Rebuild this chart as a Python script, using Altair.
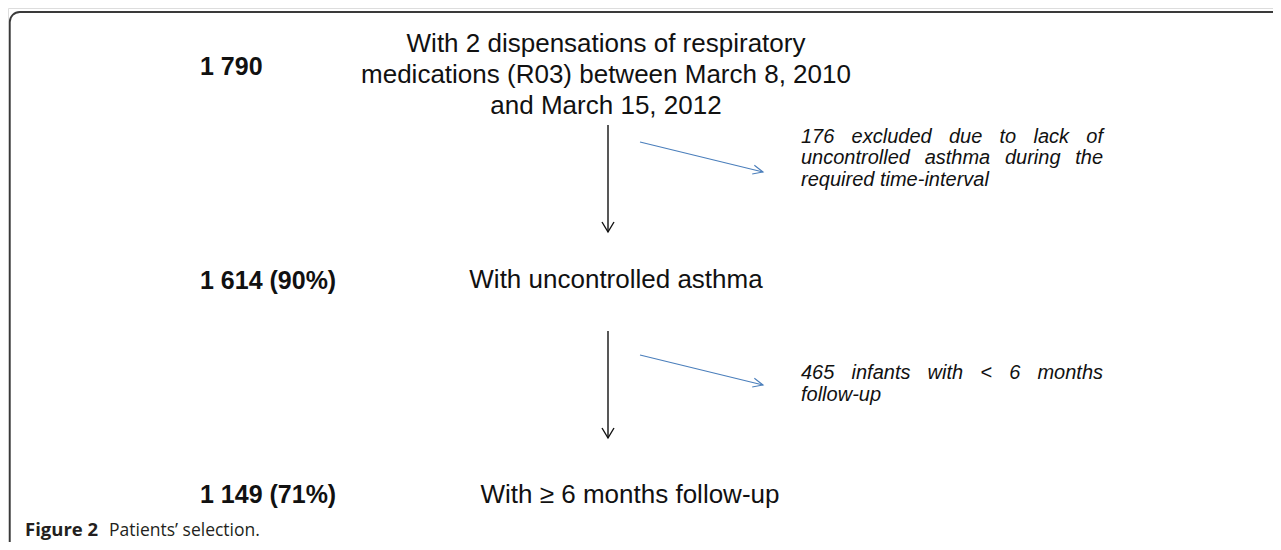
import math
import altair as alt
import pandas as pd

# ---------------- content ----------------
counts = ["1 790", "1 614 (90%)", "1 149 (71%)"]
descriptions = [
    ["With 2 dispensations of respiratory",
     "medications (R03) between March 8, 2010",
     "and March 15, 2012"],
    ["With uncontrolled asthma"],
    ["With \u2265 6 months follow-up"],
]
exclusions = [
    ["176 excluded due to lack of", "uncontrolled asthma during the", "required time-interval"],
    ["465 infants with < 6 months", "follow-up"],
]
caption_bold = "Figure 2"
caption_text = "Patients\u2019 selection."

# ---------------- layout (page pixels) ----------------
X0, X1, Y0, Y1 = 8, 1273, 8, 542
FONT = "Liberation Sans"
count_x = 200
count_base = [75, 289, 503]
desc_cx = [606, 616, 630]
desc_base = [[52, 83, 114], [288], [503]]
excl_left, excl_right = 801, 1103
excl_base = [142.5, 379]
excl_lh = 21.8
excl_size = 20
down_x = 608
down_from = [125, 331]
down_to = [232, 438]
side_from = [(640, 142), (640, 355)]
side_to = [(763, 172), (763, 385)]

# Arial/Liberation Sans advance widths (per 1000 em)
W = {' ': 278, '-': 333, '<': 584}
for ch in "0123456789abdeghnopqu":
    W[ch] = 556
for ch in "cksvxyz":
    W[ch] = 500
W.update({'f': 278, 'i': 222, 'j': 222, 'l': 222, 'm': 833, 'r': 333, 't': 278, 'w': 722})


def text_w(s, size):
    return sum(W.get(c, 556) for c in s) * size / 1000.0


# ---------------- tables ----------------
rows_bold = pd.DataFrame({"x": [count_x] * 3, "y": count_base, "t": counts})

desc_rows = []
for i, lines in enumerate(descriptions):
    for j, line in enumerate(lines):
        desc_rows.append({"x": desc_cx[i], "y": desc_base[i][j], "t": line})
desc_df = pd.DataFrame(desc_rows)

excl_rows = []
for i, lines in enumerate(exclusions):
    for j, line in enumerate(lines):
        y = excl_base[i] + j * excl_lh
        words = line.split(" ")
        last = j == len(lines) - 1
        if last or len(words) < 2:
            excl_rows.append({"x": excl_left, "y": y, "t": line})
        else:
            ww = [text_w(w, excl_size) for w in words]
            gap = (excl_right - excl_left - sum(ww)) / (len(words) - 1)
            x = excl_left
            for w, wd in zip(words, ww):
                excl_rows.append({"x": x, "y": y, "t": w})
                x += wd + gap
excl_df = pd.DataFrame(excl_rows)

down_df = pd.DataFrame({"x": [down_x] * 2, "y": down_from, "x2": [down_x] * 2, "y2": down_to})
down_head = pd.DataFrame({"x": [down_x] * 2, "y": down_to, "a": [90, 90]})
side_df = pd.DataFrame({
    "x": [p[0] for p in side_from], "y": [p[1] for p in side_from],
    "x2": [p[0] for p in side_to], "y2": [p[1] for p in side_to],
})
side_head = pd.DataFrame({
    "x": side_df["x2"], "y": side_df["y2"],
    "a": [math.degrees(math.atan2(b[1] - a[1], b[0] - a[0])) for a, b in zip(side_from, side_to)],
})
frame_df = pd.DataFrame({"x": [9.8], "y": [12], "x2": [1500], "y2": [800]})
cap_df = pd.DataFrame({"x": [25], "y": [536], "t": [caption_bold]})
cap2_df = pd.DataFrame({"x": [109], "y": [536], "t": [caption_text]})

xs = alt.Scale(domain=[X0, X1], nice=False, zero=False)
ys = alt.Scale(domain=[Y0, Y1], nice=False, zero=False, reverse=True)
X = alt.X("x:Q", scale=xs, axis=None)
Y = alt.Y("y:Q", scale=ys, axis=None)

frame = alt.Chart(frame_df).mark_rect(
    clip=True, fill=None, fillOpacity=0, stroke="#3a3a3a", strokeWidth=1.8, cornerRadius=10
).encode(x=X, y=Y, x2="x2:Q", y2="y2:Q")

bold = alt.Chart(rows_bold).mark_text(
    align="left", baseline="alphabetic", font=FONT, fontSize=25, fontWeight="bold", color="#111111"
).encode(x=X, y=Y, text="t:N")

desc = alt.Chart(desc_df).mark_text(
    align="center", baseline="alphabetic", font=FONT, fontSize=26, color="#111111"
).encode(x=X, y=Y, text="t:N")

excl = alt.Chart(excl_df).mark_text(
    align="left", baseline="alphabetic", font=FONT, fontSize=excl_size, fontStyle="italic", color="#111111"
).encode(x=X, y=Y, text="t:N")

down = alt.Chart(down_df).mark_rule(color="#111111", strokeWidth=1.4).encode(x=X, y=Y, x2="x2:Q", y2="y2:Q")
head_shape = "M -1 -0.6 L 0 0 L -1 0.6"
downh = alt.Chart(down_head).mark_point(
    shape=head_shape, size=400, filled=False, stroke="#111111", strokeWidth=1.4, opacity=1
).encode(x=X, y=Y, angle=alt.Angle("a:Q", scale=None))

side = alt.Chart(side_df).mark_rule(color="#4a7ebb", strokeWidth=1.1).encode(x=X, y=Y, x2="x2:Q", y2="y2:Q")
sideh = alt.Chart(side_head).mark_point(
    shape="M -1 -0.45 L 0 0 L -1 0.45", size=400, filled=False, stroke="#4a7ebb", strokeWidth=1.1, opacity=1
).encode(x=X, y=Y, angle=alt.Angle("a:Q", scale=None))

cap1 = alt.Chart(cap_df).mark_text(
    align="left", baseline="alphabetic", font="Open Sans", fontSize=18.5, fontWeight="bold", color="#231f20"
).encode(x=X, y=Y, text="t:N")
cap2 = alt.Chart(cap2_df).mark_text(
    align="left", baseline="alphabetic", font="Open Sans", fontSize=17.5, color="#231f20"
).encode(x=X, y=Y, text="t:N")

chart = alt.layer(frame, down, downh, side, sideh, bold, desc, excl, cap1, cap2).properties(
    width=X1 - X0, height=Y1 - Y0,
    autosize=alt.AutoSizeParams(type="fit", contains="padding"),
    padding=0,
).configure_view(stroke=None).configure(background="white")

chart.save("out.html", embed_options={"renderer": "svg", "actions": False})
